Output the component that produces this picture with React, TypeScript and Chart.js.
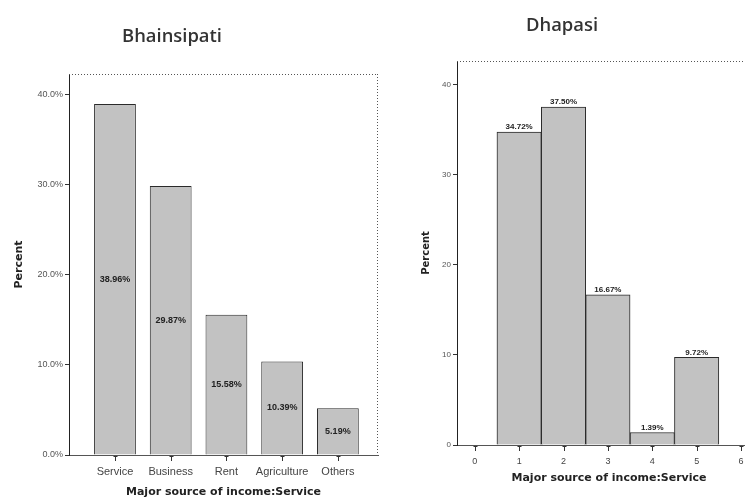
import React, { useEffect, useRef } from "react";
import { Chart, registerables } from "chart.js";

Chart.register(...registerables);

// Bhainsipati (left)
const leftTitle = "Bhainsipati";
const leftCategories = ["Service", "Business", "Rent", "Agriculture", "Others"];
const leftValues = [38.96, 29.87, 15.58, 10.39, 5.19];
const leftLabels = ["38.96%", "29.87%", "15.58%", "10.39%", "5.19%"];
const leftYTicks = [0, 10, 20, 30, 40];

// Dhapasi (right)
const rightTitle = "Dhapasi";
const rightCodes = [1, 2, 3, 4, 5];
const rightValues = [34.72, 37.5, 16.67, 1.39, 9.72];
const rightLabels = ["34.72%", "37.50%", "16.67%", "1.39%", "9.72%"];
const rightXTicks = [0, 1, 2, 3, 4, 5, 6];
const rightYTicks = [0, 10, 20, 30, 40];

const xTitle = "Major source of income:Service";
const yTitle = "Percent";

const BAR_FILL = "#c2c2c2";
const BAR_EDGE = "#2a2a2a";
const INK = "#333333";

// dotted top/right frame + x tick marks
const framePlugin = {
  id: "frame",
  afterDraw(chart: any) {
    const { ctx, chartArea } = chart;
    ctx.save();
    ctx.strokeStyle = "#555";
    ctx.lineWidth = 1;
    ctx.setLineDash([1, 2]);
    ctx.beginPath();
    ctx.moveTo(chartArea.left, chartArea.top + 0.5);
    ctx.lineTo(chartArea.right, chartArea.top + 0.5);
    ctx.moveTo(chartArea.right - 0.5, chartArea.top);
    ctx.lineTo(chartArea.right - 0.5, chartArea.bottom);
    ctx.stroke();
    ctx.setLineDash([]);
    ctx.strokeStyle = INK;
    const xs = chart.scales.x;
    ctx.beginPath();
    xs.ticks.forEach((t: any) => {
      const px = Math.round(xs.getPixelForValue(t.value)) + 0.5;
      ctx.moveTo(px, chartArea.bottom + 1);
      ctx.lineTo(px, chartArea.bottom + 6);
      ctx.moveTo(px - 2, chartArea.bottom + 1.5);
      ctx.lineTo(px + 2, chartArea.bottom + 1.5);
    });
    ctx.stroke();
    ctx.restore();
  },
};

const makeLabelPlugin = (labels: string[], mode: "inside" | "above") => ({
  id: "valueLabels",
  afterDatasetsDraw(chart: any) {
    const { ctx } = chart;
    const meta = chart.getDatasetMeta(0);
    ctx.save();
    ctx.fillStyle = "#222";
    ctx.textAlign = "center";
    ctx.font = mode === "inside" ? "bold 9px 'Liberation Sans'" : "bold 8px 'Liberation Sans'";
    meta.data.forEach((bar: any, i: number) => {
      if (mode === "inside") {
        ctx.textBaseline = "middle";
        ctx.fillText(labels[i], bar.x, (bar.y + bar.base) / 2);
      } else {
        ctx.textBaseline = "bottom";
        ctx.fillText(labels[i], bar.x, bar.y - 1);
      }
    });
    ctx.restore();
  },
});

function LeftChart() {
  const ref = useRef<HTMLCanvasElement>(null);
  useEffect(() => {
    const chart = new Chart(ref.current!, {
      type: "bar",
      data: {
        datasets: [
          {
            data: leftValues.map((v, i) => ({ x: i, y: v })),
            backgroundColor: BAR_FILL,
            borderColor: BAR_EDGE,
            borderWidth: 1,
            categoryPercentage: 1,
            barPercentage: 0.75,
          },
        ],
      },
      options: {
        animation: false,
        responsive: false,
        maintainAspectRatio: false,
        layout: { padding: { left: 0, right: 7, top: 74, bottom: 2 } },
        plugins: { legend: { display: false }, tooltip: { enabled: false } },
        scales: {
          x: {
            type: "linear",
            offset: false,
            min: -0.825,
            max: 4.72,
            afterBuildTicks: (axis: any) => {
              axis.ticks = leftCategories.map((_, i) => ({ value: i }));
            },
            afterFit: (s: any) => {
              s.height = 45;
            },
            ticks: {
              autoSkip: false,
              maxRotation: 0,
              padding: 4,
              color: "#444",
              font: { family: "'Liberation Sans'", size: 11 },
              callback: (v: any) => leftCategories[v] ?? "",
            },
            grid: { offset: false, drawOnChartArea: false, drawTicks: true, tickLength: 6, color: "rgba(0,0,0,0)" },
            border: { display: true, color: "#555", dash: [1, 2] },
            title: {
              display: true,
              text: xTitle,
              color: "#222",
              padding: { top: 0, bottom: 1 },
              font: { family: "'DejaVu Sans'", size: 11, weight: "bold" },
            },
          },
          y: {
            min: 0,
            max: 42.3,
            afterBuildTicks: (axis: any) => {
              axis.ticks = leftYTicks.map((v) => ({ value: v }));
            },
            afterFit: (s: any) => {
              s.width = 69;
            },
            ticks: {
              padding: 2,
              color: "#555",
              font: { family: "'Liberation Sans'", size: 9 },
              callback: (v: any) => Number(v).toFixed(1) + "%",
            },
            grid: { drawOnChartArea: false, drawTicks: true, tickLength: 4, color: INK },
            border: { display: true, color: "#222", width: 1 },
            title: {
              display: true,
              text: yTitle,
              color: "#222",
              padding: { top: 13, bottom: 0 },
              font: { family: "'DejaVu Sans'", size: 11, weight: "bold" },
            },
          },
        },
      } as any,
      plugins: [framePlugin, makeLabelPlugin(leftLabels, "inside")],
    });
    return () => chart.destroy();
  }, []);
  return (
    <canvas
      ref={ref}
      width={385}
      height={502}
      style={{ position: "absolute", left: 0, top: 0, width: 385, height: 502 }}
    />
  );
}

function RightChart() {
  const ref = useRef<HTMLCanvasElement>(null);
  useEffect(() => {
    const chart = new Chart(ref.current!, {
      type: "bar",
      data: {
        datasets: [
          {
            data: rightValues.map((v, i) => ({ x: rightCodes[i], y: v })),
            backgroundColor: BAR_FILL,
            borderColor: BAR_EDGE,
            borderWidth: 1,
            categoryPercentage: 1,
            barPercentage: 1,
          },
        ],
      },
      options: {
        animation: false,
        responsive: false,
        maintainAspectRatio: false,
        layout: { padding: { left: 0, right: 4, top: 61, bottom: 2 } },
        plugins: { legend: { display: false }, tooltip: { enabled: false } },
        scales: {
          x: {
            type: "linear",
            offset: false,
            min: -0.4,
            max: 6.45,
            afterBuildTicks: (axis: any) => {
              axis.ticks = rightXTicks.map((v) => ({ value: v }));
            },
            afterFit: (s: any) => {
              s.height = 55;
            },
            ticks: {
              autoSkip: false,
              maxRotation: 0,
              padding: 5,
              color: "#444",
              font: { family: "'Liberation Sans'", size: 9 },
              callback: (v: any) => String(v),
            },
            grid: { offset: false, drawOnChartArea: false, drawTicks: true, tickLength: 6, color: "rgba(0,0,0,0)" },
            border: { display: true, color: "#555", dash: [1, 2] },
            title: {
              display: true,
              text: xTitle,
              color: "#222",
              padding: { top: 0, bottom: 15 },
              font: { family: "'DejaVu Sans'", size: 11, weight: "bold" },
            },
          },
          y: {
            min: 0,
            max: 42.6,
            afterBuildTicks: (axis: any) => {
              axis.ticks = rightYTicks.map((v) => ({ value: v }));
            },
            afterFit: (s: any) => {
              s.width = 72;
            },
            ticks: {
              padding: 2,
              color: "#555",
              font: { family: "'Liberation Sans'", size: 8 },
              callback: (v: any) => String(v),
            },
            grid: { drawOnChartArea: false, drawTicks: true, tickLength: 4, color: INK },
            border: { display: true, color: "#222", width: 1 },
            title: {
              display: true,
              text: yTitle,
              color: "#222",
              padding: { top: 35, bottom: 0 },
              font: { family: "'DejaVu Sans'", size: 10, weight: "bold" },
            },
          },
        },
      } as any,
      plugins: [framePlugin, makeLabelPlugin(rightLabels, "above")],
    });
    return () => chart.destroy();
  }, []);
  return (
    <canvas
      ref={ref}
      width={380}
      height={502}
      style={{ position: "absolute", left: 385, top: 0, width: 380, height: 502 }}
    />
  );
}

const titleStyle: React.CSSProperties = {
  position: "absolute",
  fontFamily: "'Open Sans', 'Noto Sans', sans-serif",
  fontSize: 18.4,
  fontWeight: 600,
  color: "#333",
  transform: "translate(-50%, -50%)",
  whiteSpace: "nowrap",
};

export default function App() {
  return (
    <div
      style={{
        position: "fixed",
        left: 0,
        top: 0,
        width: 745,
        height: 502,
        overflow: "hidden",
        background: "#fff",
      }}
    >
      <LeftChart />
      <RightChart />
      <div style={{ ...titleStyle, left: 172, top: 34 }}>{leftTitle}</div>
      <div style={{ ...titleStyle, left: 562, top: 23 }}>{rightTitle}</div>
    </div>
  );
}
